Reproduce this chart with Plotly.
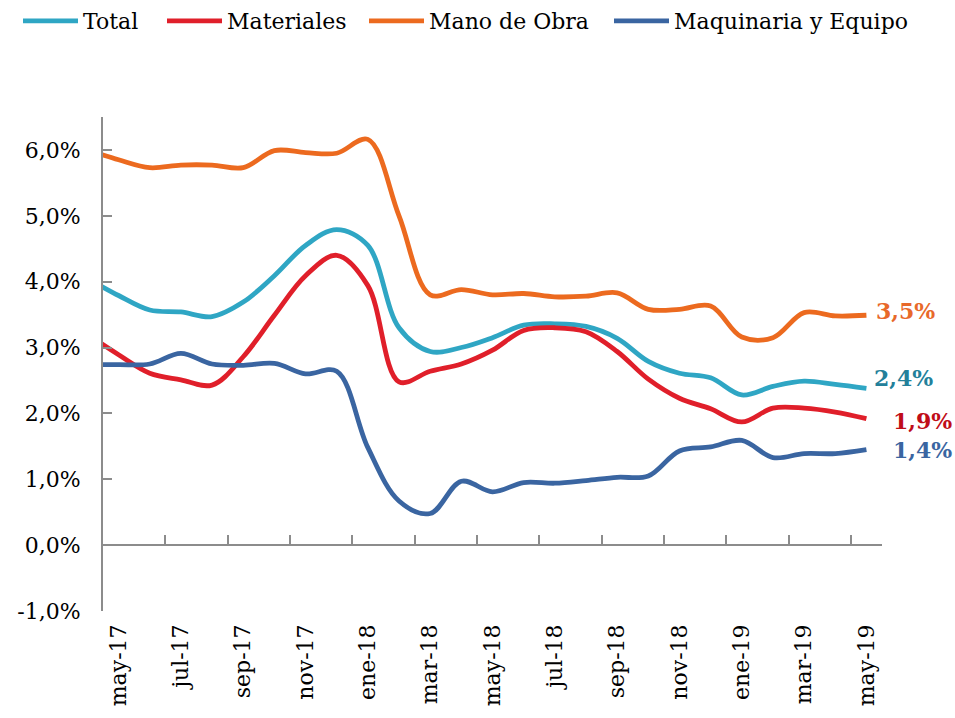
import plotly.graph_objects as go

# Months (first entry only extends the lines to the axis edge)
months = ["abr-17", "may-17", "jun-17", "jul-17", "ago-17", "sep-17", "oct-17", "nov-17",
          "dic-17", "ene-18", "feb-18", "mar-18", "abr-18", "may-18", "jun-18", "jul-18",
          "ago-18", "sep-18", "oct-18", "nov-18", "dic-18", "ene-19", "feb-19", "mar-19",
          "abr-19", "may-19"]

total = [4.05, 3.79, 3.57, 3.54, 3.47, 3.69, 4.09, 4.55, 4.79, 4.55, 3.30, 2.94, 3.00,
         3.15, 3.34, 3.36, 3.32, 3.14, 2.79, 2.61, 2.54, 2.28, 2.41, 2.49, 2.44, 2.38]
materiales = [3.20, 2.89, 2.61, 2.51, 2.43, 2.86, 3.49, 4.09, 4.40, 3.94, 2.48, 2.64, 2.75,
              2.96, 3.26, 3.30, 3.24, 2.94, 2.52, 2.23, 2.07, 1.87, 2.08, 2.08, 2.02, 1.92]
mano_obra = [6.00, 5.85, 5.73, 5.77, 5.77, 5.73, 5.99, 5.96, 5.95, 6.16, 5.00, 3.80, 3.88,
             3.80, 3.82, 3.77, 3.78, 3.83, 3.58, 3.58, 3.63, 3.16, 3.15, 3.53, 3.48, 3.49]
maquinaria = [2.74, 2.74, 2.75, 2.91, 2.75, 2.73, 2.76, 2.60, 2.64, 1.48, 0.67, 0.48, 0.97,
              0.81, 0.95, 0.94, 0.98, 1.03, 1.05, 1.43, 1.49, 1.59, 1.33, 1.39, 1.39, 1.45]

series_names = ["Total", "Materiales", "Mano de Obra", "Maquinaria y Equipo"]
series_values = [total, materiales, mano_obra, maquinaria]
line_colors = ["#2fa6c4", "#e01f2a", "#ec6a1f", "#3a65a1"]
label_colors = ["#23809a", "#c00d18", "#e8692a", "#3a65a1"]
end_labels = ["2,4%", "1,9%", "3,5%", "1,4%"]
label_shift = [(6, 10), (25, -2), (8, 4), (25, 0)]
legend_ids = ["legend", "legend2", "legend3", "legend4"]
legend_x = [18, 162, 364, 609]

y_tickvals = [-1, 0, 1, 2, 3, 4, 5, 6]
y_ticktext = ["-1,0%", "0,0%", "1,0%", "2,0%", "3,0%", "4,0%", "5,0%", "6,0%"]

x = list(range(len(months)))
label_idx = list(range(1, len(months), 2))
label_text = [months[i] for i in label_idx]
boundary_ticks = [i + 0.5 for i in range(2, len(months) - 1, 2)]

FONT = "DejaVu Serif"
AXIS_GRAY = "#8c8c8c"
W, H = 955, 718

fig = go.Figure()
for name, vals, col, lg in zip(series_names, series_values, line_colors, legend_ids):
    fig.add_trace(go.Scatter(
        x=x, y=vals, name=name, mode="lines", legend=lg,
        line=dict(color=col, width=4.8, shape="spline", smoothing=1.0),
        hoverinfo="skip",
    ))
# empty trace so that the zero-line axis (x2) is drawn
fig.add_trace(go.Scatter(x=[], y=[], xaxis="x2", showlegend=False, hoverinfo="skip"))

for name, vals, col, txt, (dx, dy) in zip(series_names, series_values, label_colors,
                                          end_labels, label_shift):
    fig.add_annotation(
        x=x[-1], y=vals[-1], xref="x", yref="y", text="<b>%s</b>" % txt,
        showarrow=False, xanchor="left", yanchor="middle", xshift=dx, yshift=dy,
        font=dict(family=FONT, size=22, color=col),
    )

legend_layout = {}
for lg, lx in zip(legend_ids, legend_x):
    legend_layout[lg] = dict(
        orientation="h", xref="container", yref="container",
        x=lx / W, y=1.0, xanchor="left", yanchor="top",
        font=dict(family=FONT, size=22, color="black"),
        itemwidth=55, bgcolor="rgba(0,0,0,0)",
    )

fig.update_layout(
    width=W, height=H,
    margin=dict(l=103, r=73, t=117, b=104),
    paper_bgcolor="white", plot_bgcolor="white",
    font=dict(family=FONT, size=22, color="black"),
    showlegend=True,
    xaxis=dict(
        range=[0.5, len(months) - 0.5],
        tickmode="array", tickvals=label_idx, ticktext=label_text,
        tickangle=-90, ticks="", showline=False, showgrid=False, zeroline=False,
        tickfont=dict(family=FONT, size=22, color="black"),
        ticklabelstandoff=8,
    ),
    xaxis2=dict(
        overlaying="x", anchor="free", position=1 / 7.5,
        range=[0.5, len(months) - 0.5],
        tickmode="array", tickvals=boundary_ticks, showticklabels=False,
        ticks="inside", ticklen=9, tickwidth=2, tickcolor=AXIS_GRAY,
        showline=True, linecolor=AXIS_GRAY, linewidth=2,
        showgrid=False, zeroline=False,
    ),
    yaxis=dict(
        range=[-1, 6.5], tickmode="array", tickvals=y_tickvals, ticktext=y_ticktext,
        ticks="inside", ticklen=9, tickwidth=2, tickcolor=AXIS_GRAY,
        showline=True, linecolor=AXIS_GRAY, linewidth=2,
        showgrid=False, zeroline=False,
        tickfont=dict(family=FONT, size=22, color="black"),
        ticklabelstandoff=16,
    ),
    **legend_layout,
)

fig.write_html("out.html", config={"displayModeBar": False},
               post_script="document.body.style.margin='0';")
